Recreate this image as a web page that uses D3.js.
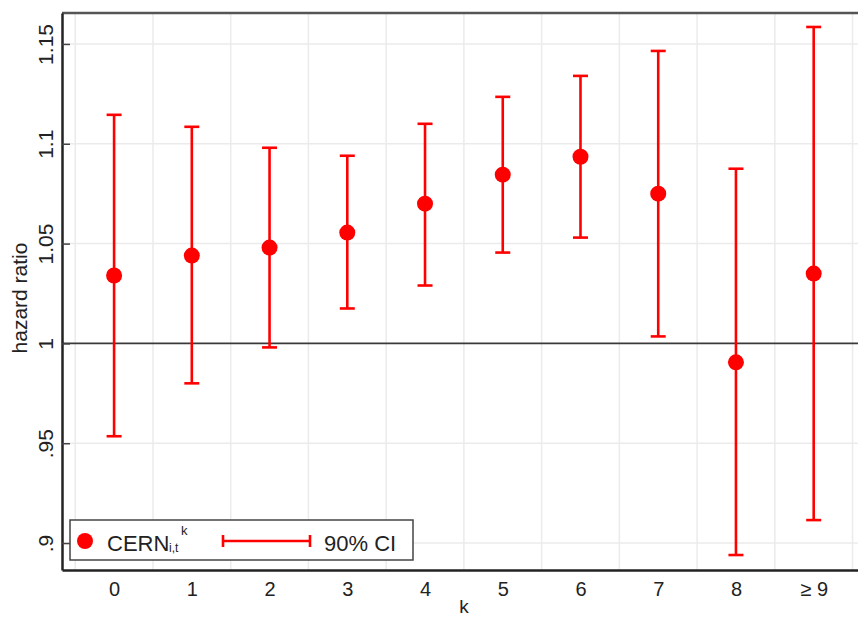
<!DOCTYPE html>
<html>
<head>
<meta charset="utf-8">
<script src="https://cdn.jsdelivr.net/npm/d3@7"></script>
<style>
  body { margin: 0; background: #fff; }
  text { font-family: "Liberation Sans", Arial, sans-serif; fill: #222; }
</style>
</head>
<body>
<script>
// categories on the x axis and the estimates with their 90% bounds
const kLabels = ["0", "1", "2", "3", "4", "5", "6", "7", "8", "\u2265 9"];
const estimates = [1.034, 1.044, 1.048, 1.0555, 1.07, 1.0845, 1.0935, 1.075, 0.9905, 1.035];
const ciLower = [0.9535, 0.98, 0.998, 1.0175, 1.029, 1.0455, 1.053, 1.0035, 0.894, 0.9115];
const ciUpper = [1.1145, 1.1085, 1.098, 1.094, 1.11, 1.1235, 1.134, 1.1465, 1.0875, 1.1585];
const yTicks = [0.9, 0.95, 1, 1.05, 1.1, 1.15];
const yTickLabels = [".9", ".95", "1", "1.05", "1.1", "1.15"];

const width = 858, height = 618;
const margin = {top: 13, right: 0, bottom: 48, left: 62};
const red = "#ff0000";

const svg = d3.select("body").append("svg").attr("width", width).attr("height", height);

//Scales. x is linear so that the grid can sit between categories.
const x = d3.scaleLinear().domain([-0.67, 9.57]).range([margin.left, width - margin.right]);
const y = d3.scaleLinear().domain([0.8865, 1.1655]).range([height - margin.bottom, margin.top]);

//Light grid: horizontal at y ticks, vertical between categories.
const gridX = d3.range(-0.5, 9.6, 1);
svg.append("g").selectAll("line").data(yTicks.filter(d => d !== 1)).join("line")
  .attr("x1", x.range()[0]).attr("x2", x.range()[1])
  .attr("y1", d => y(d)).attr("y2", d => y(d))
  .attr("stroke", "#ebebeb").attr("stroke-width", 1.5);
svg.append("g").selectAll("line").data(gridX).join("line")
  .attr("x1", d => x(d)).attr("x2", d => x(d))
  .attr("y1", y.range()[1]).attr("y2", y.range()[0])
  .attr("stroke", "#ebebeb").attr("stroke-width", 1.5);

//Reference line at hazard ratio 1.
svg.append("line")
  .attr("x1", x.range()[0]).attr("x2", x.range()[1])
  .attr("y1", y(1)).attr("y2", y(1))
  .attr("stroke", "#3a3a3a").attr("stroke-width", 1.6);

//Top frame line.
svg.append("line")
  .attr("x1", x.range()[0]).attr("x2", x.range()[1])
  .attr("y1", y.range()[1]).attr("y2", y.range()[1])
  .attr("stroke", "#555").attr("stroke-width", 2.5);

//Y axis with rotated labels.
const yAxis = d3.axisLeft(y).tickValues(yTicks)
  .tickFormat((d, i) => yTickLabels[i]).tickSizeInner(-8).tickSizeOuter(0);
const gy = svg.append("g").attr("transform", "translate(" + margin.left + ",0)").call(yAxis);
gy.select(".domain").attr("stroke", "#222").attr("stroke-width", 2.5);
gy.selectAll(".tick line").attr("stroke", "#444").attr("stroke-width", 1.5);
gy.selectAll(".tick text")
  .attr("transform", "rotate(-90)")
  .attr("x", 0).attr("y", -9).attr("dy", 0)
  .attr("text-anchor", "middle")
  .style("font-size", "21px");

//X axis.
const xAxis = d3.axisBottom(x).tickValues(d3.range(kLabels.length))
  .tickFormat((d, i) => kLabels[i]).tickSize(0).tickPadding(12);
const gx = svg.append("g").attr("transform", "translate(0," + (height - margin.bottom) + ")").call(xAxis);
gx.select(".domain").attr("stroke", "#222").attr("stroke-width", 2.5);
gx.selectAll(".tick text").style("font-size", "20px");

//Axis titles.
svg.append("text")
  .attr("transform", "translate(27," + 298 + ") rotate(-90)")
  .attr("text-anchor", "middle")
  .style("font-size", "21px")
  .text("hazard ratio");
svg.append("text")
  .attr("x", x(4.5)).attr("y", 613)
  .attr("text-anchor", "middle")
  .style("font-size", "19px")
  .text("k");

//Error bars and points.
const capHalf = 7.5;
const rows = kLabels.map((k, i) => ({k: i, est: estimates[i], lo: ciLower[i], hi: ciUpper[i]}));
const bars = svg.append("g").attr("stroke", red).attr("stroke-width", 2.6);
bars.selectAll(".stem").data(rows).join("line").attr("class", "stem")
  .attr("x1", d => x(d.k)).attr("x2", d => x(d.k))
  .attr("y1", d => y(d.lo)).attr("y2", d => y(d.hi));
bars.selectAll(".capHi").data(rows).join("line").attr("class", "capHi")
  .attr("x1", d => x(d.k) - capHalf).attr("x2", d => x(d.k) + capHalf)
  .attr("y1", d => y(d.hi)).attr("y2", d => y(d.hi));
bars.selectAll(".capLo").data(rows).join("line").attr("class", "capLo")
  .attr("x1", d => x(d.k) - capHalf).attr("x2", d => x(d.k) + capHalf)
  .attr("y1", d => y(d.lo)).attr("y2", d => y(d.lo));
svg.append("g").selectAll("circle").data(rows).join("circle")
  .attr("cx", d => x(d.k)).attr("cy", d => y(d.est))
  .attr("r", 8).attr("fill", red);

//Legend.
const legend = svg.append("g").attr("transform", "translate(70,520)");
legend.append("rect").attr("width", 343).attr("height", 40)
  .attr("fill", "#fff").attr("stroke", "#444").attr("stroke-width", 1.5);
legend.append("circle").attr("cx", 15).attr("cy", 21).attr("r", 8).attr("fill", red);
legend.append("text").attr("x", 37).attr("y", 31).style("font-size", "22px").text("CERN");
legend.append("text").attr("x", 99).attr("y", 32).style("font-size", "12px").text("i,t");
legend.append("text").attr("x", 111).attr("y", 15).style("font-size", "13px").text("k");
const lb = legend.append("g").attr("stroke", red).attr("stroke-width", 2.6);
lb.append("line").attr("x1", 153).attr("x2", 240).attr("y1", 21).attr("y2", 21);
lb.append("line").attr("x1", 153).attr("x2", 153).attr("y1", 15).attr("y2", 27);
lb.append("line").attr("x1", 240).attr("x2", 240).attr("y1", 15).attr("y2", 27);
legend.append("text").attr("x", 254).attr("y", 31).style("font-size", "22px").text("90% CI");
</script>
</body>
</html>
